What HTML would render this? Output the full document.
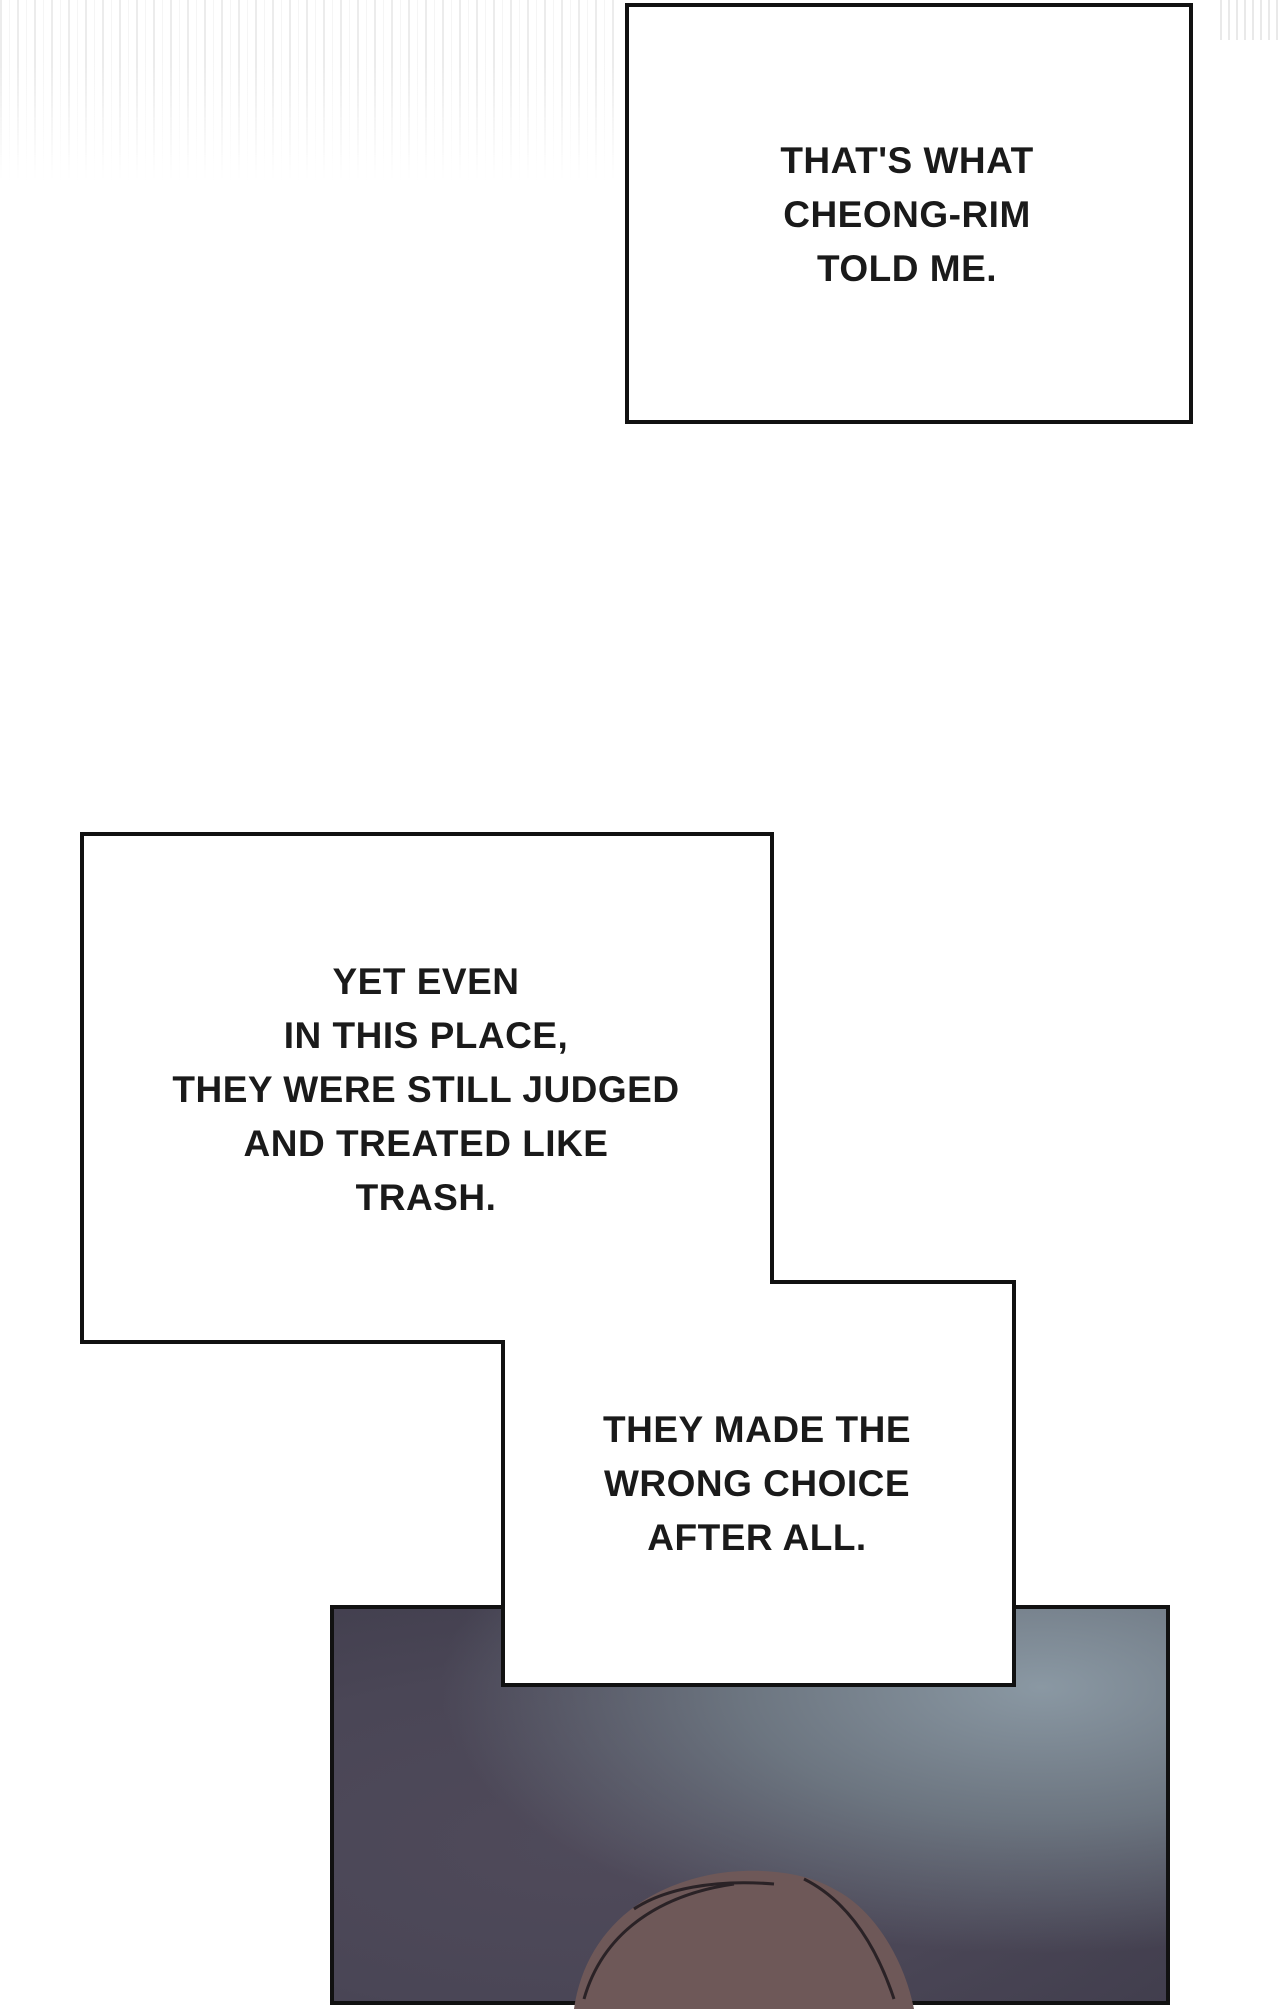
<!DOCTYPE html>
<html><head><meta charset="utf-8"><style>
html,body{margin:0;padding:0;}
body{width:1280px;height:2000px;position:relative;background:#fff;overflow:hidden;font-family:"Liberation Sans",sans-serif;}
.box{position:absolute;background:#fff;border:4px solid #111;box-sizing:border-box;}
.t{position:absolute;text-align:center;font-size:37px;line-height:54px;color:#1a1a1a;font-weight:bold;letter-spacing:0.5px;transform:translateX(-50%);white-space:nowrap;}
.streaks{position:absolute;left:0;top:0;width:620px;height:180px;
background:repeating-linear-gradient(90deg,rgba(200,200,200,0.35) 0 2px,rgba(255,255,255,0) 2px 9px,rgba(215,215,215,0.25) 9px 10px,rgba(255,255,255,0) 10px 17px);
-webkit-mask-image:linear-gradient(180deg,#000 0%,#000 35%,transparent 100%);mask-image:linear-gradient(180deg,#000 0%,#000 35%,transparent 100%);}
.streaks2{position:absolute;left:1220px;top:0;width:60px;height:40px;background:repeating-linear-gradient(90deg,rgba(200,200,200,0.4) 0 2px,transparent 2px 8px);}
.dark{position:absolute;left:330px;top:1605px;width:840px;height:400px;border:4px solid #111;box-sizing:border-box;
background:radial-gradient(ellipse at 85% 20%,#8a98a3 0%,#6c7580 30%,transparent 60%),radial-gradient(ellipse at 30% 60%,#4f4a5a 0%,#4a4656 50%,#3e3b4a 100%);}
</style></head><body>
<div class="streaks"></div>
<div class="streaks2"></div>

<div class="box" style="left:625px;top:3px;width:568px;height:421px;"></div>
<div class="t" style="left:907px;top:134px;">THAT'S WHAT<br>CHEONG-RIM<br>TOLD ME.</div>

<div class="dark">
<svg width="840" height="400" style="position:absolute;left:0;top:0">
<path d="M240 400 C250 330 300 280 380 265 C420 258 470 262 500 280 C540 300 570 350 580 400 Z" fill="#6e5858"/>
<path d="M250 390 C270 320 330 285 400 275 M300 300 C330 280 380 270 440 275 M470 270 C510 290 540 330 560 390" stroke="#2a2226" stroke-width="3" fill="none"/>
</svg>
</div>

<div class="box" style="left:501px;top:1280px;width:515px;height:407px;"></div>
<div class="box" style="left:80px;top:832px;width:694px;height:512px;"></div>
<div style="position:absolute;left:505px;top:1280px;width:265px;height:70px;background:#fff;"></div>
<div style="position:absolute;left:769px;top:1284px;width:10px;height:62px;background:#fff;"></div>
<div class="t" style="left:426px;top:955px;">YET EVEN<br>IN THIS PLACE,<br>THEY WERE STILL JUDGED<br>AND TREATED LIKE<br>TRASH.</div>
<div class="t" style="left:757px;top:1403px;">THEY MADE THE<br>WRONG CHOICE<br>AFTER ALL.</div>
</body></html>
